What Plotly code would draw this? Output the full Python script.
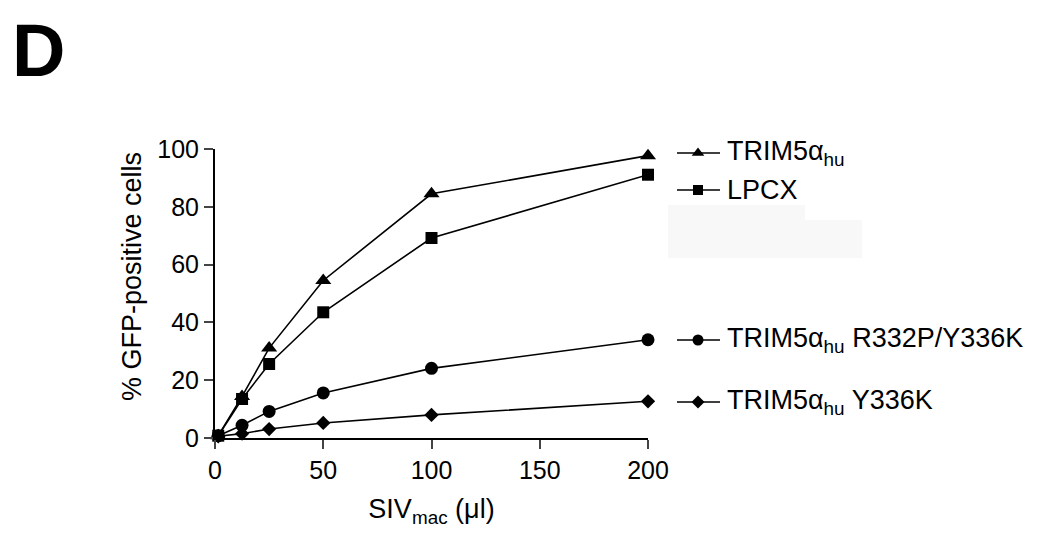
import plotly.graph_objects as go

x_vals = [1.5, 12.5, 25, 50, 100, 200]
trim_hu = [0.8, 14.4, 31.1, 54.5, 84.5, 97.7]
lpcx = [0.8, 13.5, 25.6, 43.5, 69.2, 91.1]
r332p_y336k = [0.8, 4.4, 9.2, 15.6, 24.1, 34.0]
y336k = [0.6, 1.5, 3.1, 5.2, 8.0, 12.7]

x_ticks = [0, 50, 100, 150, 200]
y_ticks = [0, 20, 40, 60, 80, 100]

names = ["TRIM5α<sub>hu</sub>", "LPCX",
         "TRIM5α<sub>hu</sub> R332P/Y336K", "TRIM5α<sub>hu</sub> Y336K"]
values = [trim_hu, lpcx, r332p_y336k, y336k]
symbols = ["triangle-up", "square", "circle", "diamond"]
sizes = [14, 12, 13, 11]
legend_sizes = [11, 10, 11, 10]
legend_rows = [153, 190, 340, 402]   # vertical position of legend rows (reference px)

OFF = 8  # page body margin
W, H = 1050, 546
L, T = 215 - OFF, 149 - OFF
PW, PH = 433, 289
R = 0
B = H - T - PH
TOTW = W - L - R


def pxp(xp):
    return (xp - OFF - L) / TOTW


def pyp(yp):
    return 1 - (yp - OFF - T) / PH


FONT = "Liberation Sans, Arial, sans-serif"

fig = go.Figure()
for name, vals, sym, size in zip(names, values, symbols, sizes):
    fig.add_trace(go.Scatter(
        x=x_vals, y=vals, name=name, mode="lines+markers",
        line=dict(color="black", width=1.6),
        marker=dict(symbol=sym, size=size, color="black"),
        cliponaxis=False, showlegend=False,
    ))

# legend drawn on an auxiliary axis at the right of the plot
lx0, lx1, lxm, ltext = 677, 720, 698, 725
shapes = [
    dict(type="rect", xref="x2", yref="y2", x0=668, x1=805, y0=205, y1=258,
         fillcolor="#f8f8f8", line=dict(width=0), layer="below"),
    dict(type="rect", xref="x2", yref="y2", x0=668, x1=862, y0=220, y1=258,
         fillcolor="#f8f8f8", line=dict(width=0), layer="below"),
]
annotations = []
for name, sym, ls, ry in zip(names, symbols, legend_sizes, legend_rows):
    fig.add_trace(go.Scatter(
        x=[lx0, lxm, lx1], y=[ry, ry, ry], mode="lines",
        line=dict(color="black", width=1.6), xaxis="x2", yaxis="y2",
        showlegend=False, hoverinfo="skip", cliponaxis=False,
    ))
    fig.add_trace(go.Scatter(
        x=[lxm], y=[ry], mode="markers",
        marker=dict(symbol=sym, size=ls, color="black"), xaxis="x2", yaxis="y2",
        showlegend=False, hoverinfo="skip", cliponaxis=False,
    ))
    annotations.append(dict(
        text=name, x=ltext, y=ry, xref="x2", yref="y2", xanchor="left", yanchor="middle",
        showarrow=False, font=dict(size=27, family=FONT, color="black"),
    ))

annotations.append(dict(
    text="<b>D</b>", x=pxp(11), y=pyp(OFF), xref="paper", yref="paper",
    xanchor="left", yanchor="top", showarrow=False, borderpad=0,
    font=dict(size=74, family=FONT, color="black"),
))
annotations.append(dict(
    text="% GFP-positive cells", x=pxp(132), y=pyp(277), xref="paper", yref="paper",
    xanchor="center", yanchor="middle", textangle=-90, showarrow=False,
    font=dict(size=27, family=FONT, color="black"),
))

fig.update_layout(
    width=W, height=H,
    margin=dict(l=L, r=R, t=T, b=B, autoexpand=False),
    paper_bgcolor="white", plot_bgcolor="white",
    showlegend=False,
    font=dict(family=FONT, color="black"),
    xaxis=dict(
        domain=[0, PW / TOTW],
        range=[0, 200], tickvals=x_ticks, ticks="outside", ticklen=9, tickwidth=2,
        showline=True, linewidth=2, linecolor="black", showgrid=False, zeroline=False,
        tickfont=dict(size=25, family=FONT),
        title=dict(text="SIV<sub>mac</sub> (μl)", font=dict(size=27, family=FONT), standoff=16),
    ),
    yaxis=dict(
        range=[0, 100], tickvals=y_ticks, ticks="outside", ticklen=9, tickwidth=2,
        showline=True, linewidth=2, linecolor="black", showgrid=False, zeroline=False,
        tickfont=dict(size=25, family=FONT),
    ),
    xaxis2=dict(domain=[PW / TOTW, 1], range=[648, 648 + TOTW - PW], visible=False,
                anchor="y2"),
    yaxis2=dict(range=[438, 149], visible=False, anchor="x2"),
    annotations=annotations,
    shapes=shapes,
)

fig.write_html("out.html")
